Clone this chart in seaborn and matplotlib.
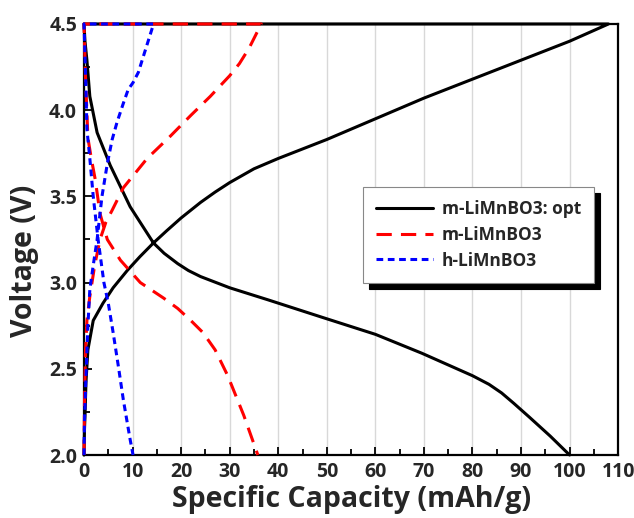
import matplotlib
matplotlib.use("Agg")
import matplotlib.pyplot as plt
import seaborn as sns
import pandas as pd
from matplotlib.ticker import MultipleLocator, FormatStrFormatter

# Datos: carga y luego descarga, en una sola línea por muestra
opt_cap = [0, 0.1, 0.2, 0.4, 0.8, 1.9, 3.9, 6.0, 8.9, 11.5, 14.3, 17.0, 20.0, 24.0, 27.0,
           30.0, 35.0, 40.0, 50.0, 60.0, 70.0, 80.0, 90.0, 100.0, 108.0,
           0, 0.2, 0.6, 1.2, 2.7, 5.4, 9.5, 14.3, 16.5, 19.3, 21.5, 24.0, 30.0, 37.9, 48.9,
           60.0, 69.6, 76.0, 80.0, 83.4, 86.0, 88.5, 91.7, 96.0, 100.0]
opt_volt = [2.0, 2.15, 2.22, 2.42, 2.61, 2.78, 2.88, 2.97, 3.07, 3.15, 3.23, 3.30, 3.375, 3.465, 3.525,
            3.58, 3.66, 3.72, 3.83, 3.95, 4.07, 4.18, 4.29, 4.40, 4.5,
            4.5, 4.40, 4.29, 4.08, 3.87, 3.68, 3.44, 3.23, 3.17, 3.11, 3.07, 3.035, 2.97, 2.90, 2.80,
            2.70, 2.59, 2.51, 2.46, 2.41, 2.36, 2.30, 2.22, 2.11, 2.0]

m_cap = [0, 0.1, 0.3, 0.6, 1.2, 2.2, 3.3, 4.5, 5.8, 8.1, 13.0, 17.8, 22.0, 26.0, 30.0, 32.0, 34.0, 36.5,
         0, 0.3, 0.8, 1.5, 2.3, 3.3, 4.8, 7.5, 11.6, 16.4, 19.3, 22.0, 24.5, 27.0, 29.6, 32.9, 35.8]
m_volt = [2.0, 2.3, 2.6, 2.78, 2.92, 3.10, 3.25, 3.35, 3.42, 3.55, 3.72, 3.85, 3.97, 4.08, 4.20, 4.27, 4.36, 4.5,
          4.5, 4.2, 3.84, 3.72, 3.60, 3.40, 3.25, 3.13, 3.0, 2.91, 2.85, 2.78, 2.71, 2.61, 2.46, 2.23, 2.0]

h_cap = [0, 0.1, 0.4, 0.8, 1.2, 1.9, 2.7, 3.7, 4.8, 5.8, 6.8, 8.1, 9.1, 10.1, 11.2, 12.2, 14.1, 14.3,
         0, 0.4, 0.6, 1.2, 1.9, 2.9, 4.1, 5.0, 6.0, 7.1, 8.1, 9.5, 10.1]
h_volt = [2.0, 2.2, 2.45, 2.75, 2.96, 3.10, 3.25, 3.50, 3.69, 3.83, 3.93, 4.04, 4.12, 4.16, 4.22, 4.31, 4.48, 4.5,
          4.5, 4.13, 3.89, 3.72, 3.50, 3.25, 3.0, 2.88, 2.71, 2.51, 2.32, 2.09, 2.0]

series = ['m-LiMnBO3: opt', 'm-LiMnBO3', 'h-LiMnBO3']
colores = {'m-LiMnBO3: opt': 'black', 'm-LiMnBO3': '#ff0000', 'h-LiMnBO3': '#0000ff'}
guiones = {'m-LiMnBO3: opt': '', 'm-LiMnBO3': (5, 3.0), 'h-LiMnBO3': (2.2, 1.5)}

df = pd.concat([
    pd.DataFrame({'cap': opt_cap, 'volt': opt_volt, 'muestra': series[0]}),
    pd.DataFrame({'cap': m_cap, 'volt': m_volt, 'muestra': series[1]}),
    pd.DataFrame({'cap': h_cap, 'volt': h_volt, 'muestra': series[2]}),
])

sns.set_style("white")
plt.rcParams['font.family'] = ['Open Sans', 'DejaVu Sans']

fig = plt.figure(figsize=(6.34, 5.18), dpi=100)
ax = fig.add_axes([0.1325, 0.1216, 0.8425, 0.8321])

sns.lineplot(data=df, x='cap', y='volt', hue='muestra', style='muestra',
             hue_order=series, style_order=series, palette=colores, dashes=guiones,
             sort=False, estimator=None, linewidth=2.2, zorder=3, clip_on=False, ax=ax)

ax.set_xlim(0, 110)
ax.set_ylim(2.0, 4.5)
ax.xaxis.set_major_locator(MultipleLocator(10))
ax.xaxis.set_minor_locator(MultipleLocator(5))
ax.yaxis.set_major_locator(MultipleLocator(0.5))
ax.yaxis.set_minor_locator(MultipleLocator(0.25))
ax.yaxis.set_major_formatter(FormatStrFormatter('%.1f'))
ax.tick_params(which='both', direction='in', color='black', width=1.3, left=True, bottom=True)
ax.tick_params(which='major', length=6, labelsize=14, pad=5)
ax.tick_params(which='minor', length=4)
for lab in ax.get_xticklabels() + ax.get_yticklabels():
    lab.set_fontweight('bold')

ax.grid(axis='x', color='#d8d8d8', linewidth=1.0)
ax.set_axisbelow(True)
for s in ax.spines.values():
    s.set_color('black')
    s.set_linewidth(1.6)

ax.set_xlabel('Specific Capacity (mAh/g)', fontsize=20.5, fontweight='bold', labelpad=2)
ax.set_ylabel('Voltage (V)', fontsize=20.5, fontweight='bold')
ax.yaxis.set_label_coords(-0.085, 0.45)

leg = ax.legend(loc='upper left', bbox_to_anchor=(0.522, 0.622), borderaxespad=0,
                fontsize=12.5, frameon=True, fancybox=False, edgecolor='#888888',
                handlelength=3.3, borderpad=0.75, labelspacing=0.45, handletextpad=0.5,
                shadow={'color': 'black', 'alpha': 1, 'ox': 4.3, 'oy': -4.3})
leg.get_frame().set_linewidth(0.8)
for t in leg.get_texts():
    t.set_fontweight('bold')

fig.savefig('out.png', dpi=100)
